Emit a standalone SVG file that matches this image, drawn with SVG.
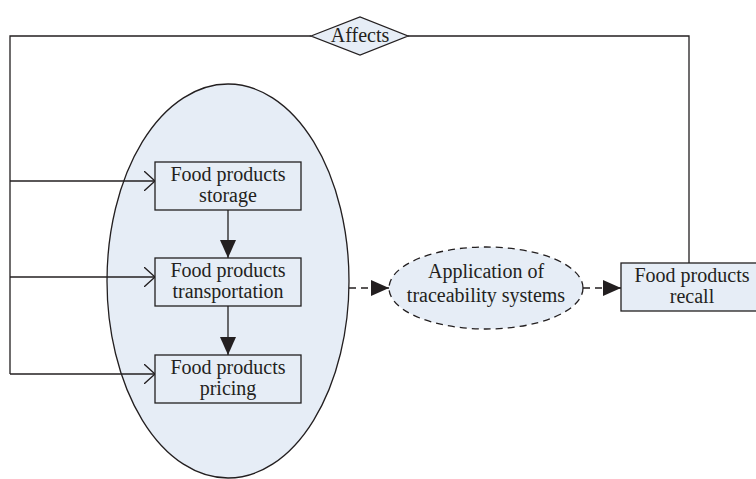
<svg xmlns="http://www.w3.org/2000/svg" width="756" height="479" viewBox="0 0 756 479">
<defs>
<style>
.ln{fill:none;stroke:#231f20;stroke-width:1.3}
.dl{fill:none;stroke:#231f20;stroke-width:1.3;stroke-dasharray:7 5}
.sh{fill:#e6edf6;stroke:#231f20;stroke-width:1.3}
.tx{font-family:"Liberation Serif","Times New Roman",serif;font-size:20px;fill:#231f20;text-anchor:middle}
</style>
<marker id="filled" viewBox="0 0 18 16" refX="18" refY="8" markerWidth="18" markerHeight="16" markerUnits="userSpaceOnUse" orient="auto">
<path d="M0,0 L18,8 L0,16 Z" fill="#231f20"/>
</marker>
<marker id="open" viewBox="0 0 12 20" refX="11" refY="10" markerWidth="12" markerHeight="20" markerUnits="userSpaceOnUse" orient="auto">
<path d="M0,0 L11,10 L0,20" fill="none" stroke="#231f20" stroke-width="1.3"/>
</marker>
</defs>
<rect width="756" height="479" fill="#ffffff"/>

<g id="group-ellipse">
<ellipse class="sh" cx="228" cy="281" rx="121" ry="197"/>
</g>

<g id="connectors">
<polyline class="ln" points="311,36 10,36 10,374"/>
<polyline class="ln" points="408,36 689,36 689,263"/>
<line class="ln" x1="10" y1="181" x2="155" y2="181" marker-end="url(#open)"/>
<line class="ln" x1="10" y1="277" x2="155" y2="277" marker-end="url(#open)"/>
<line class="ln" x1="10" y1="374" x2="155" y2="374" marker-end="url(#open)"/>
<line class="ln" x1="228" y1="210" x2="228" y2="258" marker-end="url(#filled)"/>
<line class="ln" x1="228" y1="306" x2="228" y2="355" marker-end="url(#filled)"/>
<line class="dl" x1="349" y1="288" x2="389" y2="288" marker-end="url(#filled)"/>
<line class="dl" x1="583" y1="288" x2="621" y2="288" marker-end="url(#filled)"/>
</g>

<g id="affects">
<polygon class="sh" points="311,36 360,17 408,36 360,55"/>
<text class="tx" x="360" y="42">Affects</text>
</g>

<g id="storage">
<rect class="sh" x="155" y="162" width="146" height="48"/>
<text class="tx" x="228" y="181">Food products</text>
<text class="tx" x="228" y="202">storage</text>
</g>

<g id="transportation">
<rect class="sh" x="155" y="258" width="146" height="48"/>
<text class="tx" x="228" y="277">Food products</text>
<text class="tx" x="228" y="298">transportation</text>
</g>

<g id="pricing">
<rect class="sh" x="155" y="355" width="146" height="48"/>
<text class="tx" x="228" y="374">Food products</text>
<text class="tx" x="228" y="395">pricing</text>
</g>

<g id="traceability">
<ellipse class="sh" cx="486" cy="288" rx="97" ry="41" style="stroke-dasharray:7 5"/>
<text class="tx" x="486" y="278">Application of</text>
<text class="tx" x="486" y="302">traceability systems</text>
</g>

<g id="recall">
<rect class="sh" x="621" y="263" width="142" height="48"/>
<text class="tx" x="692" y="282">Food products</text>
<text class="tx" x="692" y="303">recall</text>
</g>
</svg>
